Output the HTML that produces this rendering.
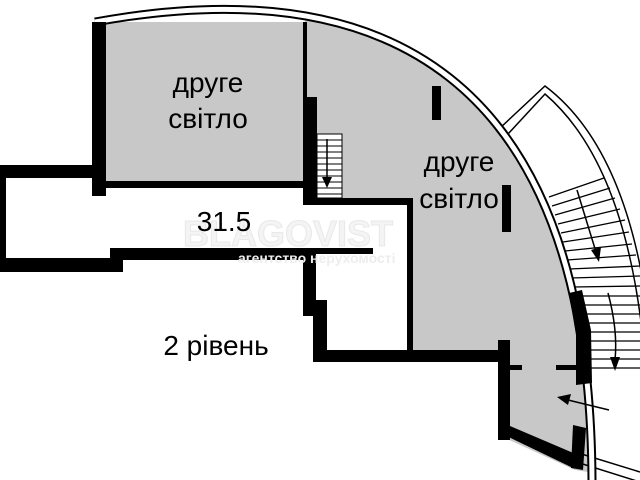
<!DOCTYPE html>
<html><head><meta charset="utf-8"><style>
html,body{margin:0;padding:0;background:#fff;width:640px;height:480px;overflow:hidden}
text{font-family:"Liberation Sans",sans-serif}
</style></head><body>
<svg width="640" height="480" viewBox="0 0 640 480" xmlns="http://www.w3.org/2000/svg">
<rect x="105" y="22" width="200" height="162" fill="#c8c8c8"/>
<polygon points="305,10 640,10 640,480 575,470 505,438 505,356 413,356 413,202 305,202" fill="#c8c8c8"/>
<path d="M90,22 C380,-30 590,70 592,480 L640,480 L640,0 L90,0 Z" fill="#fff"/>
<path d="M500,128 L545,86 Q630,150 650,330" fill="none" stroke="#000" stroke-width="1.5"/>
<path d="M508,134 L545,94 Q622,160 642,330" fill="none" stroke="#000" stroke-width="1.5"/>
<path d="M570,460 L640,482 M575,452 L640,472" fill="none" stroke="#000" stroke-width="1.5"/>
<g stroke="#000" stroke-width="1.3">
<line x1="549" y1="197" x2="604" y2="178"/>
<line x1="552" y1="206" x2="610" y2="188"/>
<line x1="555" y1="215" x2="615" y2="198"/>
<line x1="558" y1="224" x2="620" y2="209"/>
<line x1="561" y1="233" x2="625" y2="220"/>
<line x1="563" y1="242" x2="629" y2="232"/>
<line x1="565" y1="251" x2="632" y2="244"/>
<line x1="567" y1="260" x2="636" y2="255"/>
<line x1="569" y1="269" x2="640" y2="266"/>
<line x1="571" y1="278" x2="640" y2="276"/>
<line x1="573" y1="287" x2="640" y2="286"/>
<line x1="575" y1="296" x2="640" y2="296"/>
<line x1="577" y1="305" x2="640" y2="305"/>
<line x1="578" y1="314" x2="640" y2="314"/>
<line x1="580" y1="323" x2="640" y2="323"/>
<line x1="581" y1="332" x2="640" y2="332"/>
<line x1="582" y1="341" x2="640" y2="341"/>
<line x1="583" y1="350" x2="640" y2="350"/>
<line x1="584" y1="359" x2="640" y2="359"/>
<line x1="585" y1="368" x2="640" y2="368"/>
</g>
<path d="M95,22 C380,-30 590,70 592,480" fill="none" stroke="#000" stroke-width="9"/>
<path d="M95,22 C380,-30 590,70 592,480" fill="none" stroke="#fff" stroke-width="5"/>
<g fill="#000">
<rect x="92" y="22" width="14" height="174"/>
<rect x="105" y="181" width="200" height="7"/>
<rect x="303" y="22" width="4" height="80"/>
<rect x="303" y="97" width="14" height="108"/>
<rect x="303" y="198" width="110" height="7"/>
<rect x="407" y="198" width="6" height="158"/>
<rect x="0" y="165" width="93" height="13"/>
<rect x="0" y="165" width="6" height="107"/>
<rect x="0" y="258" width="123" height="14"/>
<rect x="110" y="248" width="205" height="12"/>
<rect x="290" y="248" width="83" height="6"/>
<rect x="303" y="250" width="13" height="66"/>
<rect x="313" y="300" width="14" height="62"/>
<rect x="313" y="350" width="192" height="12"/>
<rect x="498" y="340" width="12" height="100"/>
<polygon points="498,432 510,426 578,455 573,468"/>
<rect x="510" y="365" width="12" height="5"/>
<rect x="556" y="365" width="22" height="5"/>
<polygon points="569,293 582,290 591,330 592,383 576,385 576,335"/>
<polygon points="573,425 586,428 583,470 571,468"/>
<rect x="432" y="86" width="9" height="34"/>
<rect x="502" y="185" width="9" height="47"/>
</g>
<rect x="317" y="134" width="25" height="64" fill="#fff" stroke="#000" stroke-width="1"/>
<g stroke="#000" stroke-width="1">
<line x1="317" y1="140" x2="342" y2="140"/><line x1="317" y1="146" x2="342" y2="146"/>
<line x1="317" y1="152" x2="342" y2="152"/><line x1="317" y1="158" x2="342" y2="158"/>
<line x1="317" y1="164" x2="342" y2="164"/><line x1="317" y1="170" x2="342" y2="170"/>
<line x1="317" y1="176" x2="342" y2="176"/><line x1="317" y1="182" x2="342" y2="182"/>
<line x1="317" y1="188" x2="342" y2="188"/><line x1="317" y1="194" x2="342" y2="194"/>
</g>
<g stroke="#000" stroke-width="1.5" fill="none">
<line x1="327" y1="139" x2="327" y2="180"/>
<line x1="577" y1="190" x2="596" y2="252"/>
<path d="M608,293 Q618,330 615,360"/>
<line x1="609" y1="410" x2="568" y2="400"/>
</g>
<g fill="#000">
<polygon points="322,177 332,177 327,188"/>
<polygon points="591,250 601,247 599,262"/>
<polygon points="610,357 620,357 615,371"/>
<polygon points="557,397 571,394 568,405"/>
</g>
<text x="183" y="246" font-size="36" font-weight="bold" fill="#f4f4f4" stroke="#e8e8e8" stroke-width="1">BLAGOVIST</text>
<text x="238" y="263" font-size="14" font-weight="bold" fill="#ededed">агентство нерухомості</text>
<g font-size="28" fill="#000" text-anchor="middle">
<text x="208" y="92">друге</text>
<text x="208" y="128">світло</text>
<text x="459" y="171">друге</text>
<text x="459" y="208">світло</text>
<text x="224" y="231">31.5</text>
<text x="216" y="355">2 рівень</text>
</g>
</svg>
</body></html>
